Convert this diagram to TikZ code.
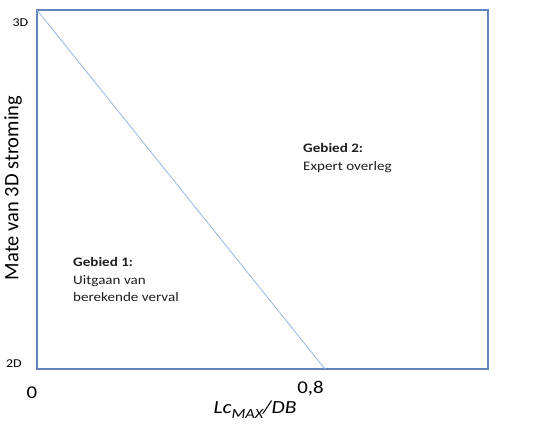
\documentclass[tikz,border=0pt]{standalone}
\usepackage{fontspec}
\setmainfont{Carlito}
\usepackage{tikz}
\definecolor{boxblue}{RGB}{100,130,190}
\definecolor{lineblue}{RGB}{150,180,225}
\definecolor{textgray}{RGB}{30,30,30}

\begin{document}
\begin{tikzpicture}[x=1pt, y=-1pt,
  frame/.style = {draw=boxblue, line width=1.5pt},
  wide/.style = {xscale=1.16, transform shape, inner sep=0pt},
  tick/.style = {wide, anchor=base},
  region/.style = {wide, anchor=base west, align=left, text=textgray, font=\fontsize{13}{17.5}\selectfont}]

\useasboundingbox (0,0) rectangle (540,426);

%% corners of the field
\coordinate (tl) at (37,10);
\coordinate (br) at (488,369);
\coordinate (lim) at (325,369);

%% field and boundary
\draw[frame] (tl) rectangle (br);
\draw[draw=lineblue, line width=0.8pt] (tl) -- (lim);

%% axis labels
\node[tick] (3d) at (20.5,26) {\fontsize{12}{14}\selectfont 3D};
\node[tick] (2d) at (14,367) {\fontsize{12}{14}\selectfont 2D};
\node[tick] (0) at (32,398) {\fontsize{18}{21}\selectfont 0};
\node[tick] (08) at (310.5,393) {\fontsize{18}{21}\selectfont 0,8};
\node[tick] (xlab) at (255,413) {\fontsize{18.5}{21}\selectfont\itshape Lc\raisebox{-0.3em}{\fontsize{14}{16}\selectfont MAX}/DB};
\node[rotate=90, inner sep=0pt] (ylab) at (13,188) {\fontsize{20.5}{24}\selectfont Mate van 3D stroming};

%% regions
\node[region] (g1) at (73,301.5) {\textbf{Gebied 1:}\\Uitgaan van\\berekende verval};
\node[region] (g2) at (303,170) {\textbf{Gebied 2:}\\Expert overleg};

\end{tikzpicture}
\end{document}
